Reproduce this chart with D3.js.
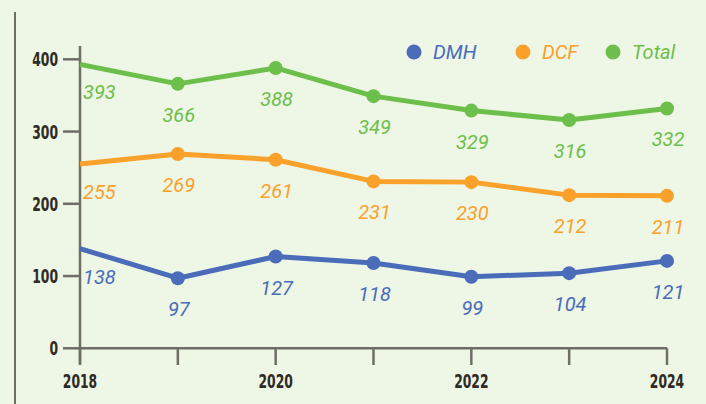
<!DOCTYPE html>
<html>
<head>
<meta charset="utf-8">
<script src="https://cdn.jsdelivr.net/npm/d3@7"></script>
<style>
  html, body { margin: 0; padding: 0; background: #eef6e6; }
  svg { display: block; }
  .tick-label { font-family: "DejaVu Sans Condensed", "DejaVu Sans", sans-serif; font-stretch: condensed; font-weight: bold; font-size: 19.5px; fill: #2e2a24; }
  .val { font-family: Roboto, "Noto Sans", sans-serif; font-style: italic; font-size: 20px; }
</style>
</head>
<body>
<div id="chart"></div>
<script>
const years = [2018, 2019, 2020, 2021, 2022, 2023, 2024];
const yearLabels = [2018, 2020, 2022, 2024];
const yTicks = [0, 100, 200, 300, 400];
const seriesNames = ["DMH", "DCF", "Total"];
const dmh = [138, 97, 127, 118, 99, 104, 121];
const dcf = [255, 269, 261, 231, 230, 212, 211];
const total = [393, 366, 388, 349, 329, 316, 332];

const w = 706, h = 404;
const colors = {DMH: "#4a6cb9", DCF: "#f9a12a", Total: "#6cbf4a"};
const axisColor = "#6e6e66";

const x = d3.scaleLinear().domain([2018, 2024]).range([80, 667]);
const y = d3.scaleLinear().domain([0, 400]).range([348.3, 59.3]);

const svg = d3.select("#chart").append("svg")
    .attr("width", w)
    .attr("height", h);

svg.append("rect").attr("width", w).attr("height", h).attr("fill", "#eef6e6");

// left frame line
svg.append("line")
    .attr("x1", 15).attr("x2", 15).attr("y1", 12).attr("y2", h)
    .attr("stroke", axisColor).attr("stroke-width", 2);

// narrow digits like the condensed face of the original
function condensed(sel) {
    sel.attr("textLength", function () { return String(this.textContent).length * 8.6; })
       .attr("lengthAdjust", "spacingAndGlyphs");
}

// y axis
const yAxis = svg.append("g");
yAxis.append("line")
    .attr("x1", x(2018)).attr("x2", x(2018))
    .attr("y1", 46).attr("y2", 364)
    .attr("stroke", axisColor).attr("stroke-width", 2.5);
yTicks.forEach(function (t) {
    yAxis.append("line")
        .attr("x1", 63).attr("x2", x(2018))
        .attr("y1", y(t)).attr("y2", y(t))
        .attr("stroke", axisColor).attr("stroke-width", 2.5);
    yAxis.append("text")
        .attr("class", "tick-label")
        .attr("x", 58).attr("y", y(t))
        .attr("dy", "0.36em")
        .attr("text-anchor", "end")
        .text(t)
        .call(condensed);
});

// x axis
const xAxis = svg.append("g");
xAxis.append("line")
    .attr("x1", x(2018)).attr("x2", x(2024))
    .attr("y1", y(0)).attr("y2", y(0))
    .attr("stroke", axisColor).attr("stroke-width", 2.5);
years.forEach(function (yr) {
    xAxis.append("line")
        .attr("x1", x(yr)).attr("x2", x(yr))
        .attr("y1", y(0)).attr("y2", 365)
        .attr("stroke", axisColor).attr("stroke-width", 2.5);
});
yearLabels.forEach(function (yr) {
    xAxis.append("text")
        .attr("class", "tick-label")
        .attr("x", x(yr)).attr("y", 388)
        .attr("text-anchor", "middle")
        .text(yr)
        .call(condensed);
});

const series = [
    {name: "Total", values: total},
    {name: "DCF", values: dcf},
    {name: "DMH", values: dmh}
];

const line = d3.line()
    .x(function (d, i) { return x(years[i]); })
    .y(function (d) { return y(d); });

series.forEach(function (s) {
    const g = svg.append("g");
    g.append("path")
        .datum(s.values)
        .attr("d", line)
        .attr("fill", "none")
        .attr("stroke", colors[s.name])
        .attr("stroke-width", 5)
        .attr("stroke-linejoin", "round");

    g.selectAll("circle")
        .data(s.values.slice(1))
        .enter().append("circle")
        .attr("cx", function (d, i) { return x(years[i + 1]); })
        .attr("cy", function (d) { return y(d); })
        .attr("r", 7)
        .attr("fill", colors[s.name]);

    g.selectAll("text")
        .data(s.values)
        .enter().append("text")
        .attr("class", "val")
        .attr("fill", colors[s.name])
        .attr("x", function (d, i) { return i === 0 ? x(years[i]) + 3 : x(years[i]) + 1; })
        .attr("y", function (d, i) { return y(d) + (i === 0 ? 35 : 38); })
        .attr("text-anchor", function (d, i) { return i === 0 ? "start" : "middle"; })
        .text(function (d) { return d; });
});

// legend
const legendX = [414, 523, 613];
seriesNames.forEach(function (n, i) {
    svg.append("circle")
        .attr("cx", legendX[i]).attr("cy", 52).attr("r", 7.5)
        .attr("fill", colors[n]);
    svg.append("text")
        .attr("class", "val")
        .attr("x", legendX[i] + 19).attr("y", 52)
        .attr("dy", "0.36em")
        .attr("fill", colors[n])
        .text(n);
});
</script>
</body>
</html>
